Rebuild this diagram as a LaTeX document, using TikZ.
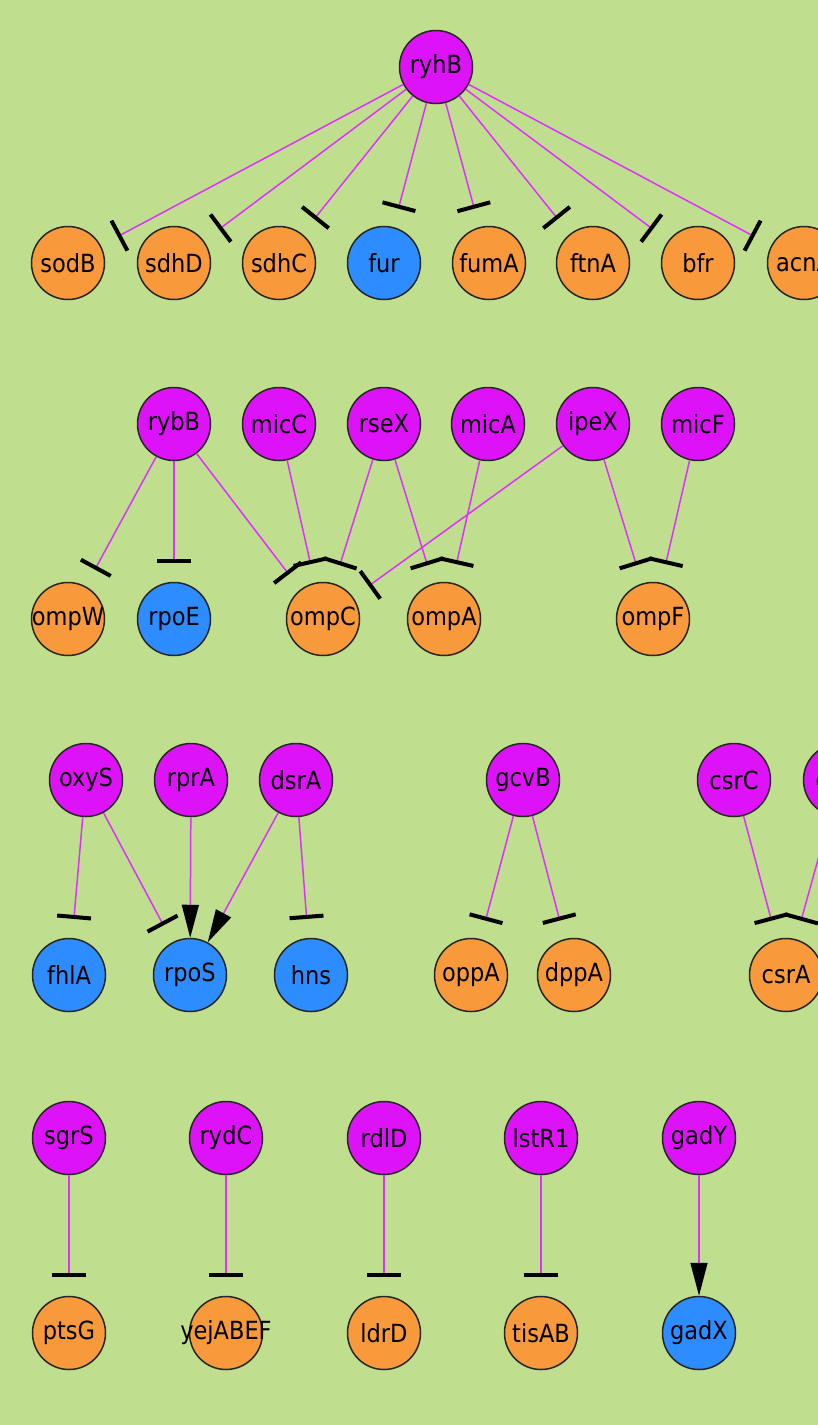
\documentclass[tikz,border=0pt]{standalone}
\usepackage{fontspec}
\setmainfont{DejaVu Sans Condensed}
\usetikzlibrary{arrows.meta}
\definecolor{bg}{HTML}{BFDE8E}
\definecolor{srna}{HTML}{DE12F9}
\definecolor{target}{HTML}{F89A3C}
\definecolor{tf}{HTML}{2D8CFF}
\definecolor{edge}{HTML}{E030FF}
\tikzset{
  gene/.style={circle, draw=black!85, line width=1.5pt, fill=#1, minimum size=73pt, inner sep=0pt,
    font=\fontsize{25}{25}\selectfont},
  inh/.style={draw=edge, line width=1.5pt, shorten >=19pt, -{Bar[width=34pt,line width=4pt,color=black]}},
  act/.style={draw=edge, line width=1.5pt, -{Triangle[length=33pt,width=17pt,color=black]}},
}

\begin{document}
\begin{tikzpicture}[x=1pt,y=-1pt]
  \useasboundingbox (0,0) rectangle (818,1425);
  \clip (0,0) rectangle (818,1425);
  \fill[bg] (0,0) rectangle (818,1425);

  % small RNAs
  \foreach \n/\x/\y in {ryhB/436/67,
      rybB/174/424, micC/279/424, rseX/384/424, micA/488/424, ipeX/593/424, micF/698/424,
      oxyS/86/780, rprA/191/780, dsrA/296/780, gcvB/523/780, csrC/734/780, csrB/840/780,
      sgrS/69/1138, rydC/226/1138, rdlD/384/1138, lstR1/541/1138, gadY/699/1138}
    \node[gene=srna] (\n) at (\x,\y) {\makebox[0pt]{\n}};

  % targets
  \foreach \n/\x/\y in {sodB/68/263, sdhD/174/263, sdhC/279/263, fumA/489/263, ftnA/593/263,
      bfr/698/263, acnA/804/263,
      ompW/68/619, ompC/323/619, ompA/444/619, ompF/653/619,
      oppA/471/975, dppA/574/975, csrA/786/975,
      ptsG/69/1333, yejABEF/226/1333, ldrD/384/1333, tisAB/541/1333}
    \node[gene=target] (\n) at (\x,\y) {\makebox[0pt]{\n}};

  % transcription factors
  \foreach \n/\x/\y in {fur/384/263, rpoE/174/619, fhlA/69/975, rpoS/190/975, hns/311/975,
      gadX/699/1333}
    \node[gene=tf] (\n) at (\x,\y) {\makebox[0pt]{\n}};

  % repression
  \foreach \s/\t in {ryhB/sodB, ryhB/sdhD, ryhB/sdhC, ryhB/fur, ryhB/fumA, ryhB/ftnA, ryhB/bfr,
      ryhB/acnA,
      rybB/ompW, rybB/rpoE, rybB/ompC, micC/ompC, rseX/ompC, rseX/ompA, micA/ompA, ipeX/ompC,
      ipeX/ompF, micF/ompF,
      oxyS/fhlA, oxyS/rpoS, dsrA/hns, gcvB/oppA, gcvB/dppA, csrC/csrA, csrB/csrA,
      sgrS/ptsG, rydC/yejABEF, rdlD/ldrD, lstR1/tisAB}
    \draw[inh] (\s) -- (\t);

  % activation
  \foreach \s/\t in {rprA/rpoS, dsrA/rpoS, gadY/gadX}
    \draw[act] (\s) -- (\t);
\end{tikzpicture}
\end{document}
